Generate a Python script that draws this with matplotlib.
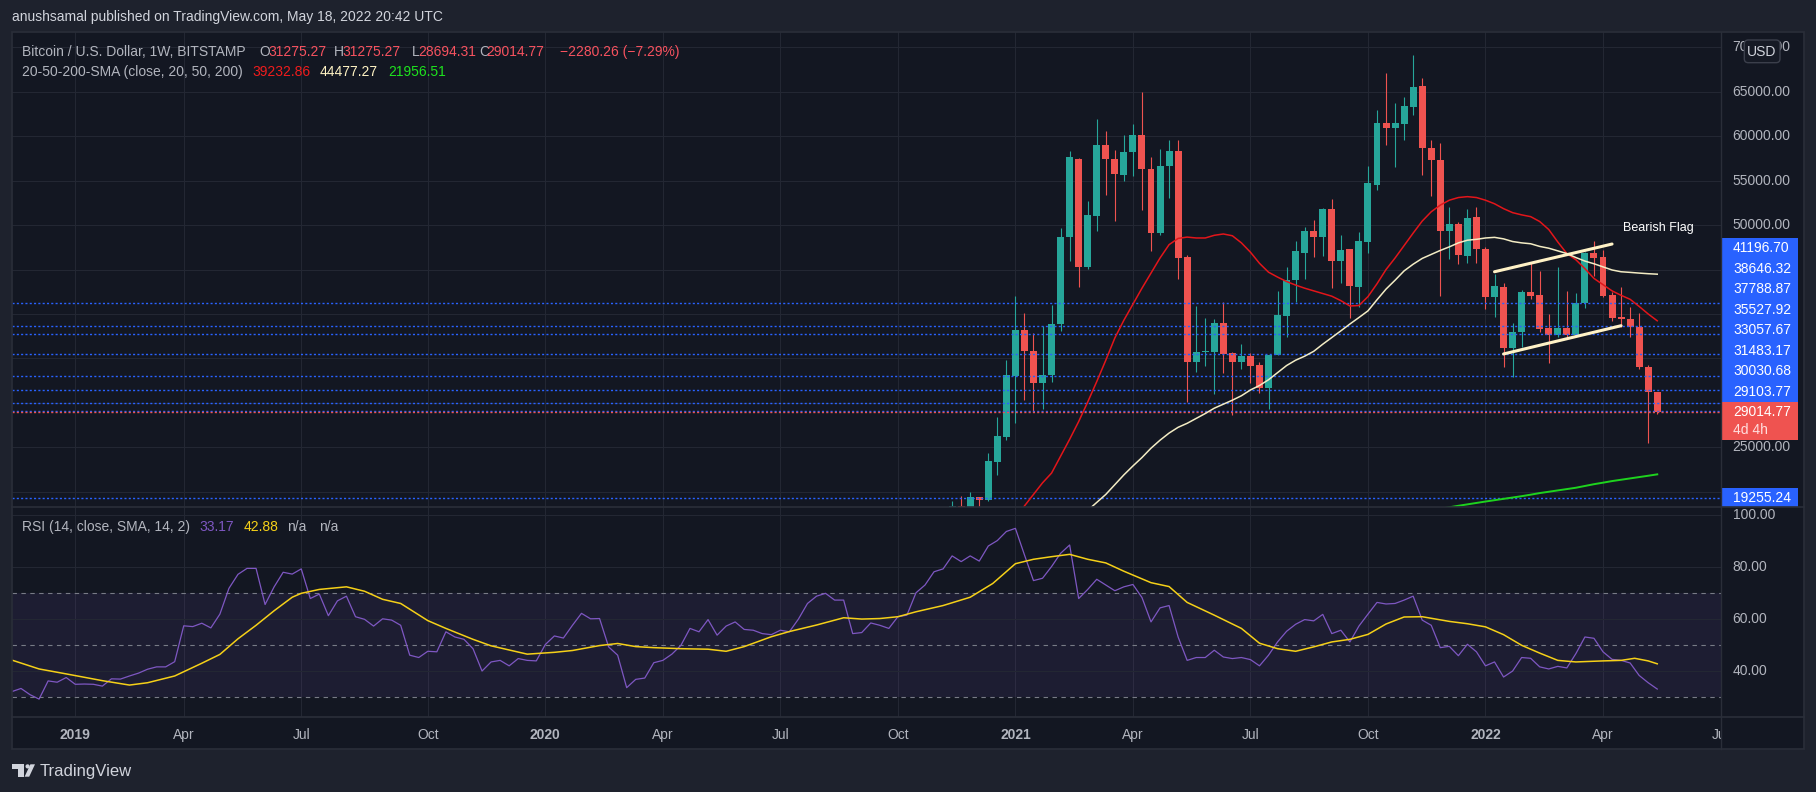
import numpy as np
import matplotlib
matplotlib.use('Agg')
import matplotlib.pyplot as plt
from matplotlib.patches import Rectangle, FancyBboxPatch, Polygon, Circle
from matplotlib.transforms import blended_transform_factory

plt.rcParams['font.family'] = ['Liberation Sans', 'DejaVu Sans']

# ---- data (weekly bars, index 0 = week of 2018-11-12) ----
tick_bars = [8, 20, 33, 47, 60, 73, 86, 99, 112, 125, 138, 151, 164, 177, 190]
tick_labels = ['2019', 'Apr', 'Jul', 'Oct', '2020', 'Apr', 'Jul', 'Oct',
               '2021', 'Apr', 'Jul', 'Oct', '2022', 'Apr', 'Jul']

candle_start = 105
opens = [15960, 18370, 18180, 19400, 19080, 23400, 26200, 33050, 38200, 35780,
         32260, 33110, 38860, 48680, 57480, 45230, 51000, 59060, 57480, 55680,
         58200, 60080, 56350, 49060, 56690, 58380, 46430, 34620, 35680, 35750,
         38990, 35600, 34620, 35300, 34250, 31700, 35390, 39810, 43820, 46900,
         49330, 48700, 51810, 46000, 47270, 43070, 48130, 54500, 61540, 60870,
         61320, 63270, 65600, 58690, 57370, 49380, 50110, 46560, 50870, 47310,
         41870, 43070, 36210, 37940, 42470, 42130, 38460, 37630, 38460, 37630,
         41270, 46900, 46370, 42130, 39690, 39400, 38500, 34000, 31275.27]
highs = [18960, 19500, 19960, 19420, 24350, 28380, 34800, 42000, 40080, 37820,
         38680, 41000, 49660, 58380, 57560, 52750, 61880, 60640, 58500, 60190,
         61320, 64930, 57670, 58570, 59620, 59620, 46650, 40900, 39590, 39440,
         41350, 35710, 36620, 35560, 34620, 35410, 42590, 45320, 48210, 49820,
         50570, 51880, 52930, 48880, 47330, 49180, 56620, 63000, 67070, 63760,
         64400, 69130, 66500, 59620, 59290, 52000, 50400, 51770, 52070, 47500,
         44460, 43500, 38950, 42700, 45770, 44840, 40000, 45250, 42580, 42400,
         47000, 48210, 47200, 42500, 43000, 40750, 40070, 34260, 31275.27]
lows = [15800, 16200, 17600, 17600, 19000, 21850, 25850, 27750, 30300, 29000,
        29270, 32370, 38120, 45980, 43090, 45080, 49360, 53350, 50420, 54930,
        55490, 51650, 47030, 48840, 53010, 43910, 30110, 33500, 34170, 31050,
        33380, 28680, 33760, 32180, 31070, 29310, 35380, 37370, 41310, 43930,
        46370, 46520, 42960, 43450, 39580, 40820, 46900, 53940, 59060, 56500,
        59550, 62370, 55680, 53300, 42030, 46180, 45580, 45700, 45700, 40560,
        39620, 34070, 32950, 36320, 41680, 38000, 34450, 37400, 37450, 37520,
        40630, 44300, 41950, 39250, 38570, 37450, 33770, 25450, 28694.31]
closes = [18370, 18180, 19400, 19080, 23450, 26250, 33100, 38200, 35780, 32260,
          33110, 38860, 48680, 57630, 45230, 51090, 59060, 57410, 55720, 58270,
          60080, 56280, 49060, 56690, 58380, 46350, 34620, 35680, 35830, 38990,
          35490, 34620, 35300, 34170, 31700, 35390, 39880, 43820, 47080, 49330,
          48700, 51810, 46000, 47200, 43150, 48210, 54710, 61540, 60870, 61430,
          63350, 65570, 58690, 57300, 49380, 50110, 46670, 50760, 47270, 41870,
          43150, 36210, 37940, 42470, 42060, 38310, 37630, 38460, 37630, 41270,
          46900, 46330, 42020, 39580, 39400, 38500, 34000, 31275.27, 29014.77]

sma20_start = 112
sma20 = [17100, 18400, 19700, 21000, 22100, 24000, 25900, 27900, 30100, 32400,
         34800, 37300, 39300, 41100, 42900, 44600, 46300, 47800, 48500, 48650,
         48550, 48550, 48850, 49000, 48800, 48000, 46950, 45700, 44700, 44150,
         43650, 43250, 42900, 42600, 42300, 42000, 41500, 40900, 40950, 41950,
         43400, 45000, 46300, 47700, 49100, 50450, 51500, 52250, 52800, 53100,
         53200, 53100, 52800, 52400, 51850, 51400, 51150, 50950, 50400, 49500,
         48100, 46800, 46100, 45100, 44000, 43300, 42600, 42100, 41650, 40850,
         40000, 39232.86]
sma50_start = 120
sma50 = [17900, 18800, 19700, 20800, 21900, 22900, 23850, 24900, 25800, 26600,
         27250, 27700, 28250, 28800, 29400, 29850, 30300, 30800, 31450, 31950,
         32600, 33400, 34200, 34800, 35250, 35800, 36600, 37350, 38100, 38870,
         39600, 40350, 41600, 42800, 43800, 44850, 45600, 46250, 46700, 47150,
         47550, 48000, 48300, 48400, 48550, 48620, 48450, 48150, 48000, 47900,
         47600, 47400, 47100, 46800, 46350, 45950, 45650, 45300, 44950, 44750,
         44680, 44600, 44530, 44477.27]
sma200_start = 159
sma200 = [18100, 18250, 18420, 18580, 18740, 18900, 19050, 19200, 19350, 19500,
          19670, 19850, 20000, 20150, 20300, 20450, 20650, 20850, 21020, 21200,
          21350, 21500, 21650, 21800, 21956.51]

rsi = [34.0, 32.2, 33.4, 31.0, 29.3, 36.3, 35.8, 37.6, 35.0, 35.1,
       35.0, 34.3, 37.1, 37.0, 38.2, 39.3, 40.8, 41.7, 41.7, 43.7,
       57.5, 57.2, 58.5, 56.7, 62.0, 71.9, 77.3, 79.6, 79.6, 65.7,
       72.5, 78.1, 77.4, 79.4, 68.0, 69.7, 61.4, 67.1, 68.9, 61.0,
       60.0, 57.4, 60.2, 59.7, 57.7, 46.2, 45.3, 47.7, 47.5, 55.2,
       53.2, 52.3, 48.7, 40.1, 43.6, 44.2, 42.1, 44.9, 44.2, 44.0,
       50.3, 53.6, 52.8, 57.7, 62.3, 60.2, 60.3, 49.4, 46.2, 33.7,
       36.9, 37.4, 43.3, 44.2, 46.6, 50.0, 56.5, 55.2, 59.9, 53.9,
       57.4, 59.0, 56.1, 55.8, 54.5, 54.1, 55.8, 55.2, 60.1, 66.1,
       68.9, 70.0, 67.4, 67.4, 54.5, 54.9, 58.6, 57.7, 56.5, 61.0,
       61.6, 70.2, 73.2, 78.3, 79.4, 84.4, 82.2, 84.4, 82.4, 88.2,
       90.3, 93.8, 95.0, 84.8, 74.9, 75.8, 80.3, 85.4, 88.6, 68.0,
       71.5, 75.4, 73.2, 71.0, 72.5, 73.4, 68.4, 59.0, 64.4, 65.3,
       53.2, 44.2, 45.3, 45.3, 48.1, 45.5, 44.9, 45.3, 44.5, 42.1,
       46.2, 51.3, 55.4, 58.1, 59.9, 59.4, 61.9, 54.5, 55.8, 51.3,
       57.4, 62.0, 66.5, 65.9, 66.1, 67.4, 68.9, 59.7, 57.7, 49.1,
       49.6, 46.0, 50.4, 47.5, 42.1, 43.6, 37.8, 40.1, 45.3, 45.0,
       41.7, 40.9, 41.9, 41.3, 46.8, 53.2, 52.7, 47.5, 44.6, 44.2,
       43.2, 38.4, 35.6, 33.17]
rsi_ma_bars = [0, 1, 4, 7, 11, 14, 16, 19, 22, 24, 26, 28, 30, 32, 33, 35, 38, 40, 42, 44,
               47, 49, 52, 54, 57, 58, 61, 63, 66, 68, 70, 72, 75, 78, 80, 82, 85, 87, 90, 93,
               95, 97, 99, 101, 104, 107, 109.5, 112, 114, 116, 118, 120, 122, 124, 127, 129,
               131, 134, 137, 139, 141, 143, 145, 147, 149, 151, 153, 155, 157, 160, 162, 164,
               166, 168, 170, 172, 174, 177, 179, 180.5, 182, 183]
rsi_ma = [44.6, 44.3, 40.9, 39.0, 36.4, 34.7, 35.6, 38.2, 43.1, 46.5, 52.5, 57.7, 63.3, 68.5,
          70.0, 71.5, 72.5, 70.8, 67.7, 66.1, 59.5, 56.5, 52.3, 49.8, 47.4, 46.6, 47.3, 48.0,
          49.9, 50.7, 49.5, 49.1, 48.7, 48.5, 47.7, 49.5, 53.3, 55.3, 57.8, 60.6, 60.1, 60.3,
          61.0, 62.9, 65.3, 68.5, 73.8, 81.4, 83.1, 84.1, 85.0, 83.1, 81.7, 78.5, 74.1, 72.6,
          66.5, 61.6, 56.5, 50.8, 48.7, 47.7, 49.4, 51.3, 52.3, 54.2, 58.2, 60.9, 61.0, 59.2,
          58.3, 57.1, 54.1, 50.0, 47.0, 44.2, 43.6, 44.0, 44.2, 45.0, 44.0, 42.88]

levels = [41196.70, 38646.32, 37788.87, 35527.92, 33057.67, 31483.17, 30030.68, 29103.77]
low_level = 19255.24
flag_upper = [(165, 44750), (178, 47870)]
flag_lower = [(166, 35500), (179, 38680)]
flag_text_pos = (179.2, 49700)
price_grid = list(range(20000, 70001, 5000))
price_labels = [70000, 65000, 60000, 55000, 50000, 25000]   # the rest sit under the level tags
change, change_pct = -2280.26, -7.29
countdown = '4d 4h'

# ---- layout (pixels) ----
W, H = 1816, 792
BG, PANE, LINE, GRID, TXT = '#1e222d', '#131722', '#2a2e39', '#232733', '#b2b5be'
GREEN, RED = '#26a69a', '#ef5350'
LEFT, RIGHT, SCALE_R = 11.7, 1720.7, 1804
TOP, SPLIT, RSI_BOT, BOT = 32.3, 507.3, 717.3, 749.3

fig = plt.figure(figsize=(W / 100, H / 100), dpi=100, facecolor=BG)


def rect(x0, y0, x1, y1):
    return [x0 / W, 1 - y1 / H, (x1 - x0) / W, (y1 - y0) / H]


def pane(x0, y0, x1, y1):
    ax = fig.add_axes(rect(x0, y0, x1, y1), facecolor=PANE)
    ax.set_xticks([])
    ax.set_yticks([])
    for s in ax.spines.values():
        s.set_visible(False)
    return ax


ax_p = pane(LEFT, TOP, RIGHT, SPLIT)
ax_r = pane(LEFT, SPLIT, RIGHT, RSI_BOT)
ax_t = pane(LEFT, RSI_BOT, RIGHT, BOT)
ax_ps = pane(RIGHT, TOP, SCALE_R, SPLIT)
ax_rs = pane(RIGHT, SPLIT, SCALE_R, RSI_BOT)
pane(RIGHT, RSI_BOT, SCALE_R, BOT)

for a in (ax_p, ax_r, ax_t):
    a.set_xlim(0.97, 190.02)
for a in (ax_p, ax_ps):
    a.set_ylim(18250, 71690)
for a in (ax_r, ax_rs):
    a.set_ylim(22.3, 103.1)
ax_t.set_ylim(0, 1)

# grid
for p in price_grid:
    ax_p.axhline(p, color=GRID, lw=0.8, zorder=0)
for b in tick_bars:
    ax_p.axvline(b, color=GRID, lw=0.8, zorder=0)
    ax_r.axvline(b, color=GRID, lw=0.8, zorder=0)

# candles
bars = np.arange(candle_start, candle_start + len(opens))
o, h, l, c = map(np.array, (opens, highs, lows, closes))
cols = np.where(c >= o, GREEN, RED)
ax_p.vlines(bars, l, h, colors=cols, lw=0.8, zorder=3)
ax_p.bar(bars, np.maximum(np.abs(c - o), 60), bottom=np.minimum(o, c), width=0.77,
         color=cols, lw=0, zorder=4)

# horizontal levels
for p in levels + [low_level]:
    ax_p.axhline(p, color='#2962ff', lw=1.0, ls=(0, (1.5, 1.6)), zorder=5)
ax_p.axhline(closes[-1], color=RED, lw=1.0, ls=(0, (1.5, 1.6)), zorder=5)

# moving averages
ax_p.plot(np.arange(sma20_start, sma20_start + len(sma20)), sma20, color='#e3151a', lw=1.1, zorder=6)
ax_p.plot(np.arange(sma50_start, sma50_start + len(sma50)), sma50, color='#f3ecc4', lw=1.1, zorder=6)
ax_p.plot(np.arange(sma200_start, sma200_start + len(sma200)), sma200, color='#1ed31e', lw=1.4, zorder=6)

# bearish flag
for seg in (flag_upper, flag_lower):
    xs, ys = zip(*seg)
    ax_p.plot(xs, ys, color='#fff2c6', lw=2.2, solid_capstyle='round', zorder=7)
ax_p.text(*flag_text_pos, 'Bearish Flag', color='white', size=9, va='center', ha='left', zorder=8)

# RSI pane
ax_r.axhspan(30, 70, color='#7e57c2', alpha=0.1, lw=0, zorder=0)
for v in (40, 60, 80, 100):
    ax_r.axhline(v, color=GRID, lw=0.8, zorder=0)
for v in (30, 50, 70):
    ax_r.axhline(v, color='#787b86', lw=0.8, ls=(0, (4, 4)), zorder=1)
ax_r.plot(np.arange(len(rsi)), rsi, color='#7e57c2', lw=0.9, zorder=3)
ax_r.plot(rsi_ma_bars, rsi_ma, color='#f5d018', lw=1.1, zorder=4)

# scales
tx = (1732.5 - RIGHT) / (SCALE_R - RIGHT)
tr = blended_transform_factory(ax_ps.transAxes, ax_ps.transData)
for p in price_labels:
    ax_ps.text(tx, p, f'{p:.2f}', transform=tr, color=TXT, size=10, va='center', ha='left', clip_on=True)
tr = blended_transform_factory(ax_rs.transAxes, ax_rs.transData)
for v in (100, 80, 60, 40):
    ax_rs.text(tx, v, f'{v:.2f}', transform=tr, color=TXT, size=10, va='center', ha='left', clip_on=True)
for b, lab in zip(tick_bars, tick_labels):
    ax_t.text(b, 0.45, lab, color=TXT, size=10, ha='center', va='center', clip_on=True,
              weight='bold' if lab.isdigit() else 'normal')

# overlay in top-based pixels
ax_o = fig.add_axes([0, 0, 1, 1])
ax_o.set_xlim(0, W)
ax_o.set_ylim(H, 0)
ax_o.axis('off')

ax_o.add_patch(Rectangle((LEFT, TOP), SCALE_R - LEFT, BOT - TOP, fill=False, ec=LINE, lw=1.2))
ax_o.plot([LEFT, SCALE_R], [SPLIT, SPLIT], color=LINE, lw=1.2, zorder=5)
ax_o.plot([LEFT, SCALE_R], [RSI_BOT, RSI_BOT], color=LINE, lw=1.2, zorder=5)
ax_o.plot([RIGHT, RIGHT], [TOP, BOT], color=LINE, lw=1.0, zorder=5)


def y_px(p):
    return H - ax_p.transData.transform((0, p))[1]


BOX_W, STEP = 77, 20.5
cy = y_px(closes[-1])
ax_o.add_patch(Rectangle((RIGHT, cy - 9.5), BOX_W, 37.5, fc=RED, ec='none', zorder=3))
ax_o.text(1733, cy + 0.5, f'{closes[-1]:.2f}', color='white', size=10, va='center', zorder=4)
ax_o.text(1733, cy + 18, countdown, color='#ffdede', size=10, va='center', zorder=4)
top_edge = cy - 9.5
for p in sorted(levels):
    yc = min(y_px(p), top_edge - STEP / 2)
    ax_o.add_patch(Rectangle((RIGHT, yc - STEP / 2), BOX_W, STEP, fc='#2962ff', ec='none', zorder=3))
    ax_o.text(1733, yc, f'{p:.2f}', color='white', size=10, va='center', zorder=4)
    top_edge = yc - STEP / 2
yc = y_px(low_level)
ax_o.add_patch(Rectangle((RIGHT, yc - 10), BOX_W, SPLIT - (yc - 10), fc='#2962ff', ec='none', zorder=3))
ax_o.text(1733, yc, f'{low_level:.2f}', color='white', size=10, va='center', zorder=4)

# USD badge
ax_o.add_patch(FancyBboxPatch((1744.3, 40), 35.7, 22.7, boxstyle='round,pad=0,rounding_size=4',
                              fc='#161a25', ec='#3b3f4b', lw=1, zorder=3))
ax_o.text(1762, 51.5, 'USD', color='#d1d4dc', size=10, ha='center', va='center', zorder=4)

# header and legends
ax_o.text(11.5, 17.3, 'anushsamal published on TradingView.com, May 18, 2022 20:42 UTC',
          color='#d1d4dc', size=10, va='center')
RED_T = '#f7525f'
line1 = [('Bitcoin / U.S. Dollar, 1W, BITSTAMP', 21.8, TXT),
         ('O', 259.5, TXT), (f'{opens[-1]:.2f}', 268, RED_T),
         ('H', 334, TXT), (f'{highs[-1]:.2f}', 342.7, RED_T),
         ('L', 411.6, TXT), (f'{lows[-1]:.2f}', 418.5, RED_T),
         ('C', 478.8, TXT), (f'{closes[-1]:.2f}', 486.2, RED_T),
         (f'\u2212{abs(change):.2f} (\u2212{abs(change_pct):.2f}%)', 559.7, RED_T)]
line2 = [('20-50-200-SMA (close, 20, 50, 200)', 21.8, TXT),
         (f'{sma20[-1]:.2f}', 252.6, '#f01c1c'),
         (f'{sma50[-1]:.2f}', 319.7, '#fff3c4'),
         (f'{sma200[-1]:.2f}', 388.6, '#1ee31e')]
line3 = [('RSI (14, close, SMA, 14, 2)', 21.8, TXT),
         (f'{rsi[-1]:.2f}', 199.8, '#7e57c2'),
         (f'{rsi_ma[-1]:.2f}', 244, '#f5d018'),
         ('n/a', 287, TXT), ('n/a', 318.6, TXT)]
for parts, y in ((line1, 51.7), (line2, 71.7), (line3, 526.7)):
    for s, x, col in parts:
        ax_o.text(x, y, s, color=col, size=10, va='center', ha='left', zorder=4)

# TradingView logo
LOGO = '#d1d4dc'
ax_o.add_patch(Rectangle((11.7, 764.3), 12.3, 4.2, fc=LOGO, ec='none'))
ax_o.add_patch(Rectangle((18, 764.3), 6, 12.4, fc=LOGO, ec='none'))
ax_o.add_patch(Circle((27.6, 766.4), 2.1, fc=LOGO, ec='none'))
ax_o.add_patch(Polygon([(30.4, 764.3), (35, 764.3), (29.2, 776.7), (24.6, 776.7)], fc=LOGO, ec='none'))
ax_o.text(40, 771.5, 'TradingView', color=LOGO, size=12, va='center', ha='left')

fig.savefig('out.png', dpi=100, facecolor=BG)
